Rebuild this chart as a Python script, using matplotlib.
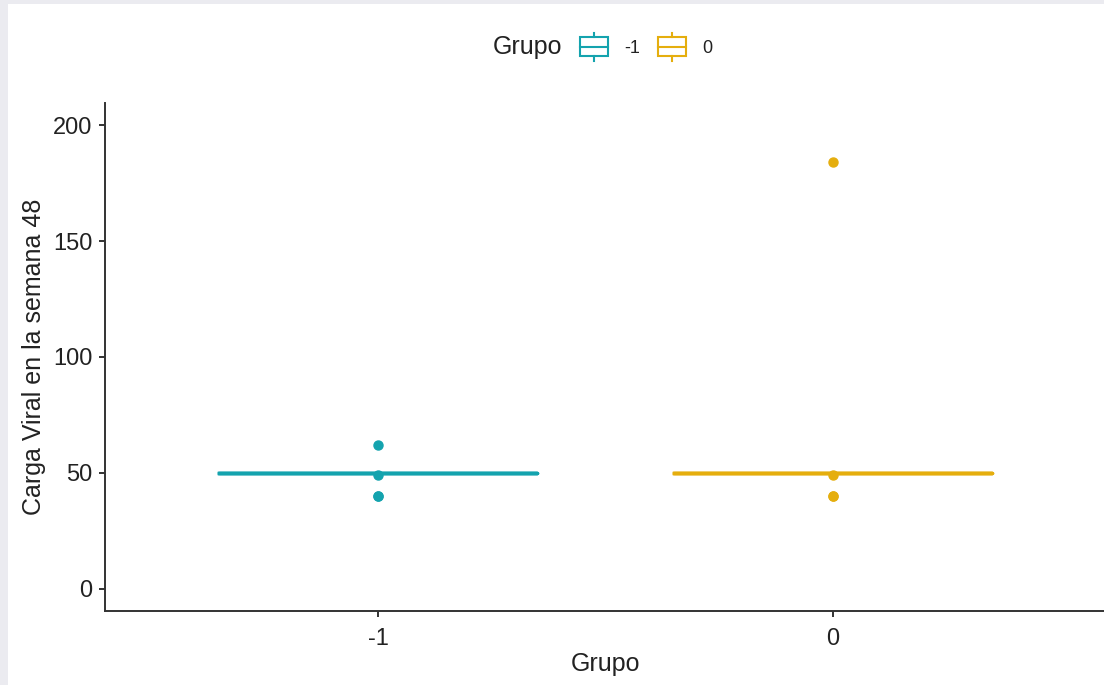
import matplotlib.pyplot as plt
from matplotlib.patches import Rectangle
from matplotlib.lines import Line2D
from matplotlib.legend_handler import HandlerBase

plt.rcParams['font.family'] = ['Liberation Sans', 'DejaVu Sans']

# values
groups = ['-1', '0']
colors = ['#14A3AE', '#E5AE0E']
medians = [50, 50]
q1 = [50, 50]
q3 = [50, 50]
whisker_lo = [50, 50]
whisker_hi = [50, 50]
outliers = [[62, 49, 40, 40], [184, 49, 40, 40]]
yticks = [0, 50, 100, 150, 200]


class BoxKey(HandlerBase):
    # boxplot-style legend key: box, median line, short whiskers
    def create_artists(self, legend, orig_handle, xd, yd, w, h, fontsize, trans):
        c = orig_handle.get_color()
        x0, y0 = -xd, -yd
        rect = Rectangle((x0, y0), w, h, fill=False, ec=c, lw=1.5, transform=trans)
        mid = Line2D([x0, x0 + w], [y0 + h / 2] * 2, color=c, lw=1.5, transform=trans)
        top = Line2D([x0 + w / 2] * 2, [y0 + h, y0 + h * 1.25], color=c, lw=1.5, transform=trans)
        bot = Line2D([x0 + w / 2] * 2, [y0, y0 - h * 0.25], color=c, lw=1.5, transform=trans)
        return [rect, mid, top, bot]


fig = plt.figure(figsize=(11.04, 6.85), dpi=100)
fig.patch.set_facecolor('#ebebf0')
fig.patches.append(Rectangle((8 / 1104, 0), 1, 1 - 4 / 685, transform=fig.transFigure,
                             fc='white', ec='none', zorder=-10))

ax = fig.add_axes([105 / 1104, 1 - 611 / 685, 1001 / 1104, 508 / 685])
ax.set_facecolor('none')

for i, (g, c) in enumerate(zip(groups, colors)):
    stats = [dict(med=medians[i], q1=q1[i], q3=q3[i], whislo=whisker_lo[i],
                  whishi=whisker_hi[i], fliers=outliers[i], label=g)]
    ax.bxp(stats, positions=[i], widths=0.7, showcaps=False,
           boxprops=dict(color=c, lw=2.5),
           medianprops=dict(color=c, lw=2.5, solid_capstyle='round'),
           whiskerprops=dict(color=c, lw=2.5),
           flierprops=dict(marker='o', markerfacecolor=c, markeredgecolor=c, markersize=6.5))

ax.set_xlim(-0.6, 1.6)
ax.set_ylim(-9.5, 209.5)
ax.set_xticks(range(len(groups)))
ax.set_xticklabels(groups)
ax.set_yticks(yticks)

for s in ['top', 'right']:
    ax.spines[s].set_visible(False)
for s in ['left', 'bottom']:
    ax.spines[s].set_color('#333333')
    ax.spines[s].set_linewidth(1.4)
ax.tick_params(axis='both', colors='#333333', length=4, width=1.4, labelsize=17,
               labelcolor='#222222', pad=5)
ax.tick_params(axis='x', pad=8.5)

ax.set_xlabel('Grupo', fontsize=18, color='#222222', labelpad=1)
ax.set_ylabel('Carga Viral en la semana 48', fontsize=18, color='#222222', labelpad=5)

fig.text(493 / 1104, 1 - 47 / 685, 'Grupo', va='center', ha='left', fontsize=18, color='#222222')
handles = [Line2D([], [], color=c) for c in colors]
fig.legend(handles=handles, labels=groups, handler_map={Line2D: BoxKey()}, ncol=2,
           loc='center left', bbox_to_anchor=(571 / 1104, 1 - 47 / 685), frameon=False,
           fontsize=13, handlelength=1.55, handleheight=1.22, handletextpad=0.9,
           columnspacing=1.0, borderpad=0, labelcolor='#222222')

fig.savefig('out.png', dpi=100, facecolor=fig.get_facecolor())
